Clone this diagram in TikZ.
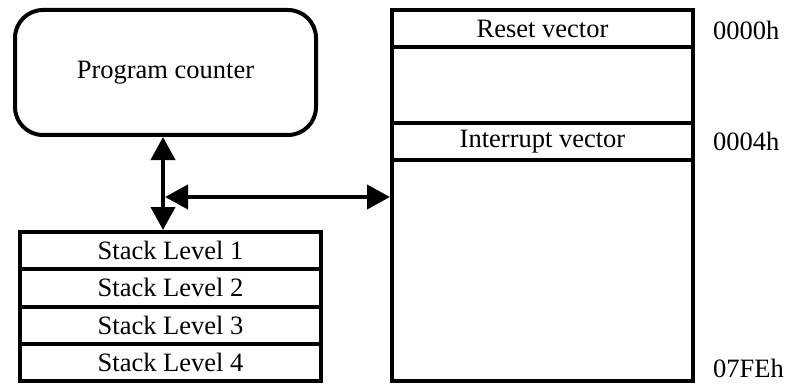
\documentclass[tikz,border=0pt]{standalone}
\usepackage{fontspec}
\setmainfont{Liberation Serif}
\usetikzlibrary{arrows.meta,calc}
\begin{document}
\begin{tikzpicture}[x=1pt,y=-1pt,
  every node/.style={font=\fontsize{26.5}{30}\selectfont},
  bx/.style={draw,line width=4pt,rectangle,inner sep=0pt,minimum width=301pt},
  row/.style={bx,outer sep=0pt},
  lbl/.style={anchor=west,inner sep=0pt},
  arr/.style={line width=4pt,{Triangle[length=23pt,width=24pt]}-{Triangle[length=23pt,width=24pt]}}]
\useasboundingbox (0,0) rectangle (787,385);
% program counter
\node[bx,rounded corners=28pt,minimum height=125pt] (pc) at (165.5,72.5) {Program counter};
% stack
\node[row,minimum height=37.25pt] (s1) at (170.5,250.625) {Stack Level 1};
\node[row,minimum height=37.25pt,anchor=north] (s2) at (s1.south) {Stack Level 2};
\node[row,minimum height=37.25pt,anchor=north] (s3) at (s2.south) {Stack Level 3};
\node[row,minimum height=37.25pt,anchor=north] (s4) at (s3.south) {Stack Level 4};
% memory
\node[row,minimum height=371pt] (mem) at (542.5,195.5) {};
\node[row,minimum height=37pt,anchor=north] (rst) at (mem.north) {Reset vector};
\node[row,minimum height=37pt] (irq) at (542.5,141.5) {Interrupt vector};
% addresses
\node[lbl] (a0) at (713,30) {0000h};
\node[lbl] (a4) at (713,141) {0004h};
\node[lbl] (a7) at (713,368) {07FEh};
% connectors
\coordinate (j) at (163,197);
\draw[arr,shorten >=2pt] (j |- pc.south) -- (j |- s1.north);
\draw[arr,shorten >=2pt] ($(j)+(2,0)$) -- (j -| mem.west);
\end{tikzpicture}
\end{document}
